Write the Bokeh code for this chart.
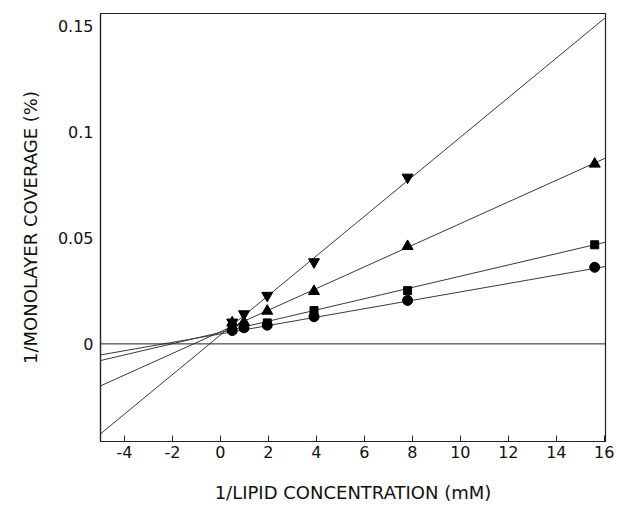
from bokeh.plotting import figure
from bokeh.models import Range1d, FixedTicker, Span
from bokeh.embed import file_html
from bokeh.resources import INLINE

# 1/lipid concentration (1/mM)
x_vals = [0.49, 0.98, 1.95, 3.9, 7.8, 15.6]

# 1/monolayer coverage (1/%) for four series
down_tri = [0.0102, 0.0141, 0.0228, 0.0386, 0.0785]
up_tri = [0.0100, 0.0103, 0.0155, 0.0248, 0.0460, 0.0848]
squares = [0.0068, 0.0080, 0.0099, 0.0157, 0.0251, 0.0467]
circles = [0.0063, 0.0076, 0.0088, 0.0128, 0.0205, 0.0361]

# fitted lines (slope, intercept)
fit_slopes = [0.00932, 0.00510, 0.00265, 0.00198]
fit_intercepts = [0.0042, 0.0057, 0.0054, 0.0047]

x_ticks = [-4, -2, 0, 2, 4, 6, 8, 10, 12, 14, 16]
x_tick_labels = ["-4", "-2", "0", "2", "4", "6", "8", "10", "12", "14", "16"]
y_ticks = [0, 0.05, 0.1, 0.15]
y_tick_labels = ["0", "0.05", "0.1", "0.15"]

x_lo, x_hi = -5.0, 16.05
y_lo, y_hi = -0.046, 0.1557

FONT = "DejaVu Sans"

p = figure(width=617, height=506, output_backend="svg", toolbar_location=None,
           x_range=Range1d(x_lo, x_hi), y_range=Range1d(y_lo, y_hi),
           min_border_left=100, min_border_right=12, min_border_top=13, min_border_bottom=65)

p.background_fill_color = "white"
p.border_fill_color = "white"
p.outline_line_color = "#222222"
p.outline_line_width = 1.2
p.xgrid.grid_line_color = None
p.ygrid.grid_line_color = None

# zero line
p.add_layout(Span(location=0, dimension="width", line_color="#222222", line_width=1))

# fitted lines
for s, b in zip(fit_slopes, fit_intercepts):
    p.line([x_lo, x_hi], [b + s * x_lo, b + s * x_hi], line_color="#3a3a3a", line_width=1)

p.scatter(x_vals[:len(down_tri)], down_tri, marker="inverted_triangle", size=11,
          fill_color="black", line_color="black")
p.scatter(x_vals, up_tri, marker="triangle", size=11, fill_color="black", line_color="black")
p.scatter(x_vals, squares, marker="square", size=8, fill_color="black", line_color="black")
p.scatter(x_vals, circles, marker="circle", size=10, fill_color="black", line_color="black")

# axes
p.xaxis.ticker = FixedTicker(ticks=x_ticks)
p.xaxis.major_label_overrides = {t: l for t, l in zip(x_ticks, x_tick_labels)}
p.xaxis.minor_tick_line_color = None
p.xaxis.major_tick_in = 6
p.xaxis.major_tick_out = 0
p.xaxis.major_label_standoff = 4
p.xaxis.axis_label = "1/LIPID CONCENTRATION (mM)"
p.xaxis.axis_label_standoff = 21

p.yaxis.ticker = FixedTicker(ticks=y_ticks)
p.yaxis.major_label_overrides = {t: l for t, l in zip(y_ticks, y_tick_labels)}
p.yaxis.minor_tick_line_color = None
p.yaxis.major_tick_in = 0
p.yaxis.major_tick_out = 0
p.yaxis.major_label_standoff = 7
p.yaxis.axis_label = "1/MONOLAYER COVERAGE (%)"
p.yaxis.axis_label_standoff = 14

for ax in (p.xaxis, p.yaxis):
    ax.axis_line_color = "#222222"
    ax.axis_line_width = 1.2
    ax.major_tick_line_color = "#222222"
    ax.major_label_text_font = FONT
    ax.major_label_text_font_size = "16px"
    ax.major_label_text_color = "#111111"
    ax.axis_label_text_font = FONT
    ax.axis_label_text_font_size = "18px"
    ax.axis_label_text_font_style = "normal"
    ax.axis_label_text_color = "#111111"

open("out.html", "w").write(file_html(p, INLINE))
